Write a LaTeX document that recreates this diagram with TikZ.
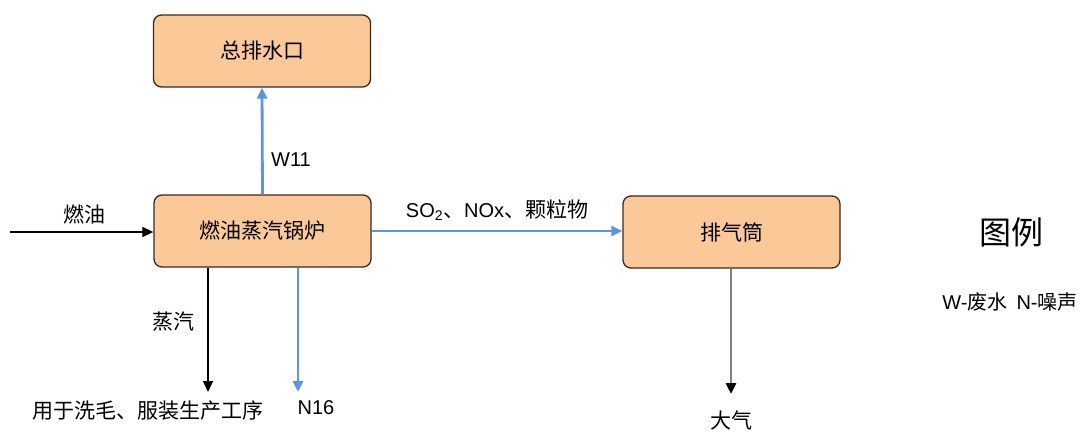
\documentclass[tikz,border=0pt]{standalone}
\usepackage{fontspec}
\setmainfont{Liberation Sans}
\newfontfamily\cjk{Noto Sans CJK SC}
\usetikzlibrary{arrows.meta}
\definecolor{boxfill}{HTML}{FBC898}
\definecolor{boxline}{HTML}{3A2A1E}
\definecolor{flowblue}{HTML}{5A95E6}
\definecolor{flowgray}{HTML}{808080}
\tikzset{
  procbox/.style={draw=boxline, line width=1.3pt, fill=boxfill, rounded corners=8pt,
    minimum width=217pt, minimum height=72pt, inner sep=0pt, font=\cjk\fontsize{21}{25}\selectfont},
  lbl/.style={inner sep=1pt, font=\cjk\fontsize{21}{25}\selectfont},
  latlbl/.style={inner sep=1pt, font=\fontsize{20}{24}\selectfont},
  blackflow/.style={draw=black, line width=1.6pt, -{Triangle[length=11pt,width=10pt]}},
  blueflow/.style={draw=flowblue, line width=2.8pt, -{Triangle[length=11pt,width=10pt]}},
  grayflow/.style={draw=flowgray, line width=2.8pt, -{Triangle[length=11pt,width=10pt,color=black]}}
}
\begin{document}
\begin{tikzpicture}[x=1pt,y=-1pt]
\useasboundingbox (0,0) rectangle (1086,434);
\node[procbox] (drain) at (262,51) {总排水口};
\node[procbox] (boiler) at (262.5,231) {燃油蒸汽锅炉};
\node[procbox] (stack) at (731.5,232) {排气筒};

\coordinate (in) at (10,232);
\coordinate (steamend) at (208,392);
\coordinate (n16end) at (298,392);
\coordinate (airend) at (731,394);

\draw[blackflow] (in) -- (boiler.west |- in);
\node[lbl] (fuel) at (84,214) {燃油};

\draw[blueflow] (boiler.north) -- (drain.south);
\node[latlbl] (w11) at (291,160) {W11};

\draw[blueflow] (boiler.east) -- (stack.west |- boiler.east);
\node[latlbl] (gas) at (497,210) {SO\textsubscript{2}{\cjk\fontsize{21}{25}\selectfont 、}NOx{\cjk\fontsize{21}{25}\selectfont 、颗粒物}};

\draw[blackflow] (boiler.south -| steamend) -- (steamend);
\node[lbl] (steam) at (173,322) {蒸汽};
\node[lbl] (use) at (148,411) {用于洗毛、服装生产工序};

\draw[blueflow] (boiler.south -| n16end) -- (n16end);
\node[latlbl] (n16) at (316,408) {N16};

\draw[grayflow] (stack.south -| airend) -- (airend);
\node[lbl] (air) at (731,420) {大气};

\node[inner sep=0pt, font=\cjk\fontsize{32}{36}\selectfont] (legend) at (1011,232) {图例};
\node[inner sep=0pt, font=\cjk\fontsize{20}{24}\selectfont] (legtext) at (1010,302) {{\fontspec{Liberation Sans}W-}废水\hspace{9pt}{\fontspec{Liberation Sans}N-}噪声};
\end{tikzpicture}
\end{document}
